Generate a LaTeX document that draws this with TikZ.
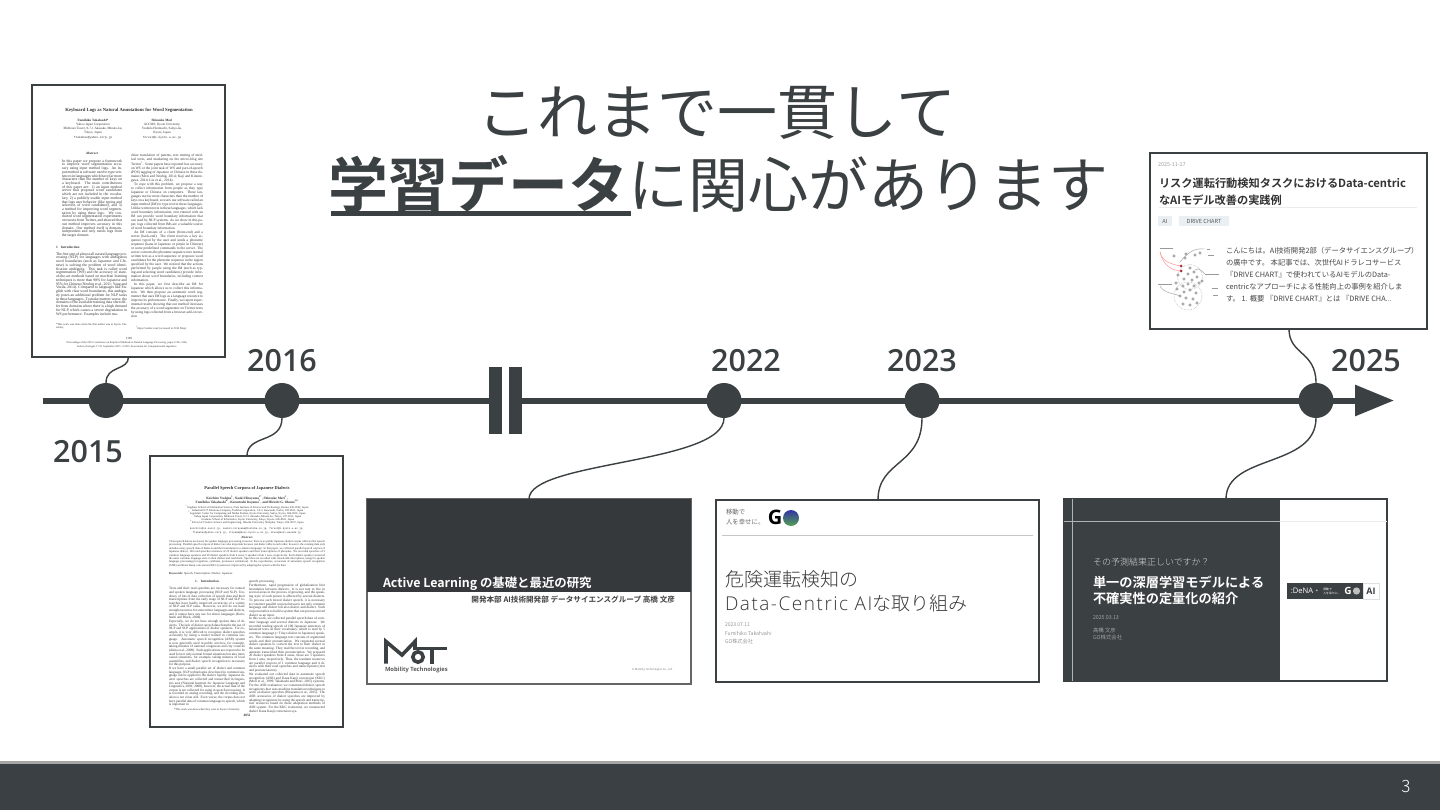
\documentclass[tikz,border=0pt]{standalone}
\usepackage{fontspec}
\usetikzlibrary{arrows.meta}
\newfontfamily\jpl[BoldFont={Noto Sans CJK JP Bold}]{Noto Sans CJK JP Light}
\newfontfamily\jp[BoldFont={Noto Sans CJK JP Bold}]{Noto Sans CJK JP}
\newfontfamily\ser{Liberation Serif}
\newfontfamily\mon{Liberation Mono}
\newfontfamily\ops{Open Sans}
\newfontfamily\opsl[LetterSpace=8]{Open Sans Light}
\newfontfamily\opsm{Open Sans Semibold}
\newcommand\fsz[2]{\fontsize{#1}{#2}\selectfont}
\lineskiplimit=-10pt
\definecolor{ink}{HTML}{3B4043}
\definecolor{slidedark}{HTML}{35393B}
\definecolor{foot}{HTML}{3B4044}
\definecolor{tagbg}{HTML}{E9EFF2}
\tikzset{
  frame/.style={draw=ink,line width=2.2pt,fill=white,inner sep=0pt,outer sep=0pt,anchor=north west},
  txt/.style={inner sep=0pt,outer sep=0pt,anchor=west,align=left,text=ink},
  year/.style={inner sep=0pt,outer sep=0pt,text=ink,font=\opsm\fsz{30.5}{30}},
  dot/.style={circle,fill=ink,minimum size=35pt,inner sep=0pt,outer sep=0pt},
  link/.style={draw=ink,line width=1.4pt},
  bar/.style={fill=ink,draw=none},
  col/.style={inner sep=0pt,outer sep=0pt,anchor=north west,align=justify,text=black!80,font=\ser\fsz{3.6}{3.72}\selectfont\sloppy},
  cen/.style={inner sep=0pt,outer sep=0pt,anchor=north,align=center,text=black!80,font=\ser\fsz{3.3}{3.62}\selectfont},
  tag/.style={fill=tagbg,inner sep=0pt,outer sep=0pt,anchor=north west,text=black!65,font=\jp\fsz{5.6}{6}\selectfont},
  blob/.style={draw=black!45,line width=.5pt},
  tickm/.style={draw=black!40,line width=.8pt}
}
\begin{document}
\begin{tikzpicture}[x=1pt,y=-1pt]
\useasboundingbox (0,0) rectangle (1440,810);
\fill[white] (0,0) rectangle (1440,810);
% footer
\fill[foot] (0,763) rectangle (1440,810);
\fill[black!35] (0,761) rectangle (1440,763.5);
\node[txt,anchor=center,text=white,font=\jpl\fsz{17}{17}\selectfont] (pageno) at (1406,786) {3};
% title
\node[txt,anchor=center,font=\jp\fsz{60}{60}\selectfont] (title1) at (717,113) {これまで一貫して};
\node[txt,anchor=center,font=\jp\fsz{60}{60}\selectfont] (title2) at (718,184) {\textbf{学習データ}に関心があります};
\fill[ink] (331,211) rectangle (631,216);
% timeline
\coordinate (tlstart) at (43,400.5);
\coordinate (tlend) at (1394,400.5);
\draw[draw=ink,line width=6pt,-{Triangle[length=39pt,width=30pt]}] (tlstart) -- (tlend);
\fill[white] (485,360) rectangle (526,440);
\fill[ink] (480,397.5) rectangle (489,403.5);
\fill[ink] (522,397.5) rectangle (530,403.5);
\fill[bar] (489,367) rectangle (502,434);
\fill[bar] (509,367) rectangle (522,434);
\node[dot] (d15) at (106,400.5) {};
\node[dot] (d16) at (282,400.5) {};
\node[dot] (d22) at (724,400.5) {};
\node[dot] (d23) at (922,400.5) {};
\node[dot] (d25) at (1316,400.5) {};
\node[year] (y15) at (88,452) {2015};
\node[year] (y16) at (282,361) {2016};
\node[year] (y22) at (746,361) {2022};
\node[year] (y23) at (922,361) {2023};
\node[year] (y25) at (1366,361) {2025};
% frames
\node[frame,minimum width=193pt,minimum height=272pt] (p1) at (32,85) {};
\node[frame,minimum width=193pt,minimum height=271pt] (p2) at (150,456) {};
\node[frame,draw=black!60,minimum width=324pt,minimum height=185pt] (s1) at (367,499) {};
\node[frame,minimum width=323pt,minimum height=182pt] (s2) at (716,500) {};
\node[frame,minimum width=323pt,minimum height=182pt] (s3) at (1064,499) {};
\node[frame,minimum width=277pt,minimum height=176pt] (c1) at (1150,153) {};
% connectors
\draw[link] (d15.north) .. controls +(0,-18) and +(0,14) .. (p1.south);
\draw[link] (d16.south) .. controls +(0,26) and +(0,-22) .. (p2.north -| 247,0);
\draw[link] (d22.south) .. controls +(0,46) and +(0,-38) .. (s1.north -| 529,0);
\draw[link] (d23.south) .. controls +(0,48) and +(0,-40) .. (s2.north -| 878,0);
\draw[link] (d25.south) .. controls +(0,50) and +(0,-45) .. (s3.north -| 1226,0);
\draw[link] (d25.north) .. controls +(0,-32) and +(0,26) .. (c1.south -| 1289,0);
% paper 1
\node[cen,font=\ser\bfseries\fsz{4.7}{5}\selectfont] (p1t) at (129,108) {Keyboard Logs as Natural Annotations for Word Segmentation};
\node[cen,font=\ser\fsz{3.3}{4.2}\selectfont] (p1a) at (93,119) {\textbf{Fumihiko Takahashi*}\\Yahoo Japan Corporation\\Midtown Tower, 9-7-1 Akasaka, Minato-ku,\\Tokyo, Japan\\{\mon\fsz{2.9}{4.2}\selectfont ftakahas@yahoo-corp.jp}};
\node[cen,font=\ser\fsz{3.3}{4.2}\selectfont] (p1b) at (162,119) {\textbf{Shinsuke Mori}\\ACCMS, Kyoto University\\Yoshida Honmachi, Sakyo-ku,\\Kyoto, Japan\\{\mon\fsz{2.9}{4.2}\selectfont forest@i.kyoto-u.ac.jp}};
\node[cen,font=\ser\bfseries\fsz{3.3}{3.6}\selectfont] (p1abs) at (92,152) {Abstract};
\node[col,text width=60pt,font=\ser\fsz{3.8}{3.72}\selectfont\sloppy] (p1c1) at (62,159.5) {In this paper we propose a framework to improve word segmentation accuracy using input method logs. An input method is software used to type sentences in languages which have far more characters than the number of keys on a keyboard. The main contributions of this paper are: 1) an input method server that proposes word candidates which are not included in the vocabulary, 2) a publicly usable input method that logs user behavior (like typing and selection of word candidates), and 3) a method for improving word segmentation by using these logs. We conducted word segmentation experiments on tweets from Twitter, and showed that our method improves accuracy in this domain. Our method itself is domain-independent and only needs logs from the target domain.};
\node[col,font=\ser\bfseries\fsz{3.4}{3.6}\selectfont] (p1h) at (56,246.5) {1\quad Introduction};
\node[col,text width=71pt,font=\ser\fsz{3.8}{3.75}\selectfont\sloppy] (p1c2) at (56,252.5) {The first step of almost all natural language processing (NLP) for languages with ambiguous word boundaries (such as Japanese and Chinese) is solving the problem of word identification ambiguity. This task is called word segmentation (WS) and the accuracy of state-of-the-art methods based on machine learning techniques is more than 98\% for Japanese and 95\% for Chinese (Neubig et al., 2011; Yang and Vozila, 2014). Compared to languages like English with clear word boundaries, this ambiguity poses an additional problem for NLP tasks in these languages. To make matters worse, the domains of the available training data often differ from domains where there is a high demand for NLP, which causes a severe degradation in WS performance. Examples include ma-};
\node[col,text width=71pt,font=\ser\fsz{2.8}{3.2}\selectfont] (p1f) at (56,323.5) {*This work was done when the first author was at Kyoto University.};
\node[col,text width=72pt,font=\ser\fsz{3.6}{3.98}\selectfont\sloppy] (p1c3) at (131,154) {chine translation of patents, text mining of medical texts, and marketing on the micro-blog site Twitter\textsuperscript{1}. Some papers have reported low accuracy on WS or the joint task of WS and part-of-speech (POS) tagging of Japanese or Chinese in these domains (Mori and Neubig, 2014; Kaji and Kitsuregawa, 2014; Liu et al., 2014).\par\hspace{3pt}To cope with this problem, we propose a way to collect information from people as they type Japanese or Chinese on computers. These languages use far more characters than the number of keys on a keyboard, so users use software called an input method (IM) to type text in these languages. Unlike written texts in these languages, which lack word boundary information, text entered with an IM can provide word boundary information that can used by NLP systems. As we show in this paper, logs collected from IMs are a valuable source of word boundary information.\par\hspace{3pt}An IM consists of a client (front-end) and a server (back-end). The client receives a key sequence typed by the user and sends a phoneme sequence (kana in Japanese or pinyin in Chinese) or some predefined commands to the server. The server converts the phoneme sequence into normal written text as a word sequence or proposes word candidates for the phoneme sequence in the region specified by the user. We noticed that the actions performed by people using the IM (such as typing and selecting word candidates) provide information about word boundaries, including context information.\par\hspace{3pt}In this paper, we first describe an IM for Japanese which allows us to collect this information. We then propose an automatic word segmenter that uses IM logs as a language resource to improve its performance. Finally, we report experimental results showing that our method increases the accuracy of a word segmenter on Twitter texts by using logs collected from a browser add-on version};
\node[col,text width=72pt,font=\ser\fsz{2.8}{3.2}\selectfont] (p1g) at (136,326) {\textsuperscript{1}https://twitter.com/ (accessed in 2015 May).};
\node[cen,font=\ser\fsz{3.2}{3.4}\selectfont] (p1n) at (129,337.5) {1196};
\node[cen,font=\ser\fsz{2.7}{3.3}\selectfont] (p1p) at (127,342) {Proceedings of the 2015 Conference on Empirical Methods in Natural Language Processing, pages 1196--1206,\\Lisbon, Portugal, 17-21 September 2015. \copyright 2015 Association for Computational Linguistics.};
% paper 2
\node[cen,font=\ser\bfseries\fsz{4.4}{5}\selectfont] (p2t) at (247,486) {Parallel Speech Corpora of Japanese Dialects};
\node[cen,font=\ser\bfseries\fsz{3.4}{4}\selectfont] (p2a) at (247,496) {Koichiro Yoshino\textsuperscript{1}, Naoki Hirayama\textsuperscript{2*}, Shinsuke Mori\textsuperscript{3},\\Fumihiko Takahashi\textsuperscript{4*}, Katsutoshi Itoyama\textsuperscript{5}, and Hiroshi G. Okuno\textsuperscript{5,6}};
\node[cen,font=\ser\fsz{2.8}{3}\selectfont] (p2b) at (247,505.5) {\textsuperscript{1}Graduate School of Information Science, Nara Institute of Science and Technology, Ikoma, 630-0192, Japan\\\textsuperscript{2}Industrial ICT Solutions Company, Toshiba Corporation, 1-9-2, Kawasaki, Fuchu, 183-8511, Japan\\\textsuperscript{3}Academic Center for Computing and Media Studies, Kyoto University, Sakyo, Kyoto, 606-8501, Japan\\\textsuperscript{4}Yahoo Japan Corporation, Midtown Tower, 9-7-1 Akasaka, Minato-ku, Tokyo, 107-6211, Japan\\\textsuperscript{5}Graduate School of Informatics, Kyoto University, Sakyo, Kyoto, 606-8501, Japan\\\textsuperscript{6}School of Creative Science and Engineering, Waseda University, Shinjuku, Tokyo, 169-0072, Japan};
\node[cen,font=\mon\fsz{2.5}{3.8}\selectfont] (p2c) at (247,527.5) {koichiro@is.naist.jp, naoki1.hirayama@toshiba.co.jp, forest@i.kyoto-u.ac.jp,\\ftakahas@yahoo-corp.jp, itoyama@kuis.kyoto-u.ac.jp, okuno@aoni.waseda.jp};
\node[cen,font=\ser\bfseries\fsz{3}{3.4}\selectfont] (p2d) at (247,536) {Abstract};
\node[col,text width=156pt,font=\ser\fsz{2.9}{3.4}\selectfont\sloppy] (p2e) at (169,540.5) {Clean speech data is necessary for spoken language processing, however, there is no public Japanese dialect corpus collected for speech processing. Parallel speech corpora of dialect are also important because real dialect affects each other, however, the existing data only includes noisy speech data of dialects and their translation to common language. In this paper, we collected parallel speech corpora of Japanese dialect, 100 read speeches utterance of 25 dialect speakers and their transcriptions of phoneme. We recorded speeches of 5 common language speakers and 20 dialect speakers from 4 areas, 5 speakers from 1 area, respectively. Each dialect speaker converted the same common language texts to their dialect and read them. Speeches are recorded with closed-talk microphone, using for spoken language processing (recognition, synthesis, pronounce estimation). In the experiments, accuracies of automatic speech recognition (ASR) and Kana Kanji conversion (KKC) system are improved by adapting the system with the data.};
\node[col,font=\ser\fsz{3}{3.4}\selectfont] (p2k) at (169,572.5) {\textbf{Keywords:} Speech, Transcription, Dialect, Japanese};
\node[cen,font=\ser\bfseries\fsz{3.3}{3.6}\selectfont] (p2h) at (207,580) {1.\quad Introduction};
\node[col,text width=76pt,font=\ser\fsz{3.4}{3.62}\selectfont\sloppy] (p2l) at (169,587.5) {Texts and their read speeches are necessary for natural and spoken language processing (NLP and SLP). Tendency of lots of data collection of speech data and their transcriptions from the early stage of NLP and SLP researches have hardly improved accuracies of a variety of NLP and SLP tasks. However, we still do not have enough resources for some minor languages and dialects, and it cannot have any use for minor languages (Kurohashi and Black, 2004).\par Especially, we do not have enough spoken data of dialects. The lack of dialect speech data disturbs the use of NLP and SLP applications of dialect speakers. For example, it is very difficult to recognize dialect speeches accurately by using a model trained in common language. Automatic speech recognition (ASR) system is now generally used in public services, for example, taking minutes of national congresses and city councils (Akita et al., 2009). Such applications are expected to be used for not only normal formal situations but also more casual situations, for example, taking minutes of local assemblies, and dialect speech recognition is necessary for this purpose.\par If we have a small parallel set of dialect and common language, NLP technologies developed in common language can be applied to the dialect rapidly. Japanese dialect speeches are collected and transcribed in linguistics area (National Institute for Japanese Language and Linguistics, 2001; 2008), however, the actual data of the corpus is not collected for using in speech processing. It is recorded on analog recording, and the recording situation is not clean still. Even worse, the corpus does not have parallel data of common language to speech, which is important in};
\node[col,text width=76pt,font=\ser\fsz{2.8}{3.2}\selectfont] (p2m) at (174,708.5) {*This work was done when they were at Kyoto University.};
\node[col,text width=76pt,font=\ser\fsz{3.45}{3.7}\selectfont\sloppy] (p2r) at (249,580.5) {speech processing.\par Furthermore, rapid progression of globalization blur boundaries between dialects. It is not rare to live in several areas in the process of growing, and the speaking style of each person is affected by several dialects. To process such mixed dialect speech, it is necessary to construct parallel corpora between not only common language and dialect but also dialect and dialect. Such corpora realize to build a system that can process mixed dialect as an input.\par In this work, we collected parallel speech data of common language and several dialects in Japanese. We recorded reading speech of 100 Japanese sentences of balanced texts on their vocabulary, which is read by 5 common language (= Tokyo dialect in Japanese) speakers. The common language text consists of segmented words and their pronunciation. We requested several dialect speakers to convert the text to their dialect in the same meaning. They read the text in recording, and annotate transcribed their pronunciation. We prepared 20 dialect speakers from 4 areas, those are 5 speakers from 1 area, respectively. Thus, the resultant resources are parallel corpora of 1 common language and 4 dialects with their read speeches and transcriptions (text and pronunciations).\par We evaluated our collected data in automatic speech recognition (ASR) and Kana Kanji conversion (KKC) (Mori et al., 1999; Takahashi and Mori, 2015) systems. For the ASR evaluation, we constructed dialect speech recognizers that uses machine translation techniques to work on dialect speeches (Hirayama et al., 2015). The ASR accuracies of dialect speeches are improved by adapting recognizers by using the speech and transcription resources based on these adaptation methods of ASR system. For the KKC evaluation, we constructed dialect Kana Kanji conversion sys-};
\node[cen,font=\ser\bfseries\fsz{3.4}{3.6}\selectfont] (p2n) at (247,714.5) {4052};
% slide 1
\fill[slidedark] (367,499) rectangle (691,591.5);
\node[txt,text=white,font=\jp\bfseries\fsz{12.4}{13}\selectfont] (s1t) at (383,584) {Active Learning の基礎と最近の研究};
\node[txt,anchor=east,text=black!75,font=\jp\bfseries\fsz{7.6}{8}\selectfont] (s1s) at (675,600) {開発本部 AI技術開発部 データサイエンスグループ 高橋 文彦};
\draw[ink,line width=3.6pt,miter limit=4] (386,663.5) -- (386,641.5) -- (402,655) -- (415,641.5) -- (415,650);
\draw[ink,line width=3.6pt] (418,657) circle (5.2);
\draw[ink,line width=3.6pt] (414,648.5) -- (447,648.5) (432,648.5) -- (432,663.5);
\node[txt,font=\ops\bfseries\fsz{5.8}{7}\selectfont,text=black!65] (s1l) at (385,670) {Mobility Technologies};
\node[txt,text=black!55,font=\ops\fsz{2.7}{3}\selectfont] (s1c) at (632,670) {\copyright\ Mobility Technologies Co., Ltd.};
% slide 2
\node[txt,text=black!60,font=\jp\fsz{6.4}{9.4}\selectfont] (s2a) at (726,517) {移動で\\人を幸せに。};
\node[txt,anchor=center,text=black,font=\ops\bfseries\fsz{20}{20}\selectfont] (s2g) at (775,517) {G};
\shade[shading angle=45,bottom color=black!10!green!35!gray,top color=blue!55!black!80] (791,518) circle (8);
\draw[black!22,line width=1pt] (722,535) -- (1033,535);
\node[txt,text=black!78,font=\jpl\fsz{19}{24}\selectfont] (s2t) at (725,579) {危険運転検知の};
\node[txt,text=black!78,font=\jpl\fsz{19}{24}\selectfont] (s2u) at (725,603) {{\opsl\fsz{19}{24}Data-Centric AI}な取り組み};
\node[txt,text=black!60,font=\jpl\fsz{5.2}{8.6}\selectfont] (s2d) at (725,633.5) {2023.07.11\\Fumihiko Takahashi\\GO株式会社};
% slide 3
\fill[ink] (1064,499) rectangle (1279.5,681);
\draw[white!60!ink,line width=.8pt] (1072,499) -- (1072,681);
\draw[white!60!ink,line width=.8pt] (1064,521) -- (1279.5,521);
\draw[black!8,line width=.8pt] (1279.5,521) -- (1387,521);
\node[txt,text=white!80!ink,font=\jpl\fsz{9}{10}\selectfont] (s3a) at (1093,562) {その予測結果正しいですか？};
\node[txt,text=white,font=\jp\bfseries\fsz{13.2}{16}\selectfont] (s3b) at (1093,590) {単一の深層学習モデルによる\\不確実性の定量化の紹介};
\node[txt,text=white!75!ink,font=\jpl\fsz{5.4}{6}\selectfont] (s3c) at (1093,618) {2025.03.13};
\node[txt,text=white!75!ink,font=\jpl\fsz{5.4}{7}\selectfont] (s3d) at (1093,634) {高橋 文彦\\GO株式会社};
\fill[ink] (1287,583) rectangle (1363,599);
\draw[black!12,line width=.6pt,fill=white] (1363,583) rectangle (1379,599);
\node[txt,anchor=center,text=ink,font=\ops\bfseries\fsz{9}{9}\selectfont] (s3e) at (1371,591) {AI};
\node[txt,anchor=center,text=white,font=\ops\fsz{7.6}{8}\selectfont] (s3f) at (1302,591) {:DeNA};
\node[txt,anchor=center,text=white,font=\ops\fsz{5}{5}\selectfont] (s3g) at (1317,591) {+};
\node[txt,anchor=center,text=white,font=\jp\fsz{2.9}{4}\selectfont,align=left] (s3h) at (1332,591) {移動で\\人を幸せに。};
\node[txt,anchor=center,text=white,font=\ops\bfseries\fsz{10}{10}\selectfont] (s3i) at (1348,591) {G};
\fill[black!25] (1356.5,591) circle (3.6);
% card
\node[txt,text=black!38,font=\jp\fsz{5.4}{6}\selectfont] (c1d) at (1158,165) {2025-11-17};
\node[txt,text=black!80,font=\jp\bfseries\fsz{11.2}{17}\selectfont] (c1t) at (1159,191.5) {リスク運転行動検知タスクにおけるData-centric\\なAIモデル改善の実践例};
\draw[black!8,line width=.8pt] (1159,207.5) -- (1417,207.5);
\node[tag,minimum width=14pt,minimum height=10pt] (c1g) at (1158,216) {AI};
\node[tag,minimum width=50pt,minimum height=10pt] (c1h) at (1179,216) {DRIVE CHART};
\node[txt,text=black!72,font=\jp\fsz{7.3}{12}\selectfont] (c1b) at (1226,275) {こんにちは。AI技術開発2部（データサイエンスグループ）\\の廣中です。 本記事では、次世代AIドラレコサービス\\『DRIVE CHART』で使われているAIモデルのData-\\centricなアプローチによる性能向上の事例を紹介しま\\す。 1. 概要 『DRIVE CHART』とは 『DRIVE CHA...};
% small figure in card
\draw[black!35,densely dotted,line width=.5pt] (1190,277) circle (12.5) (1188,296) circle (14);
\foreach \px/\py in {1174/256,1185/258,1186/254,1195/255,1200/253,1178/275,1176/283,1183/286,1184/279,1190/268,1194/272,1188/274,1197/277,1192/280,1199/283,1188/284,1194/286,1202/281,1184/292,1180/296,1190/290,1196/293,1186/298,1193/299,1183/304,1190/305,1197/303,1177/289}
  \draw[blob] (\px,\py) circle (1.3);
\fill[red!55!black!80] (1181,266) circle (1.5) (1181,271) circle (1.5);
\draw[red!40,line width=.5pt] (1160,252) .. controls (1162,262) and (1172,264) .. (1180,266);
\draw[red!40,line width=.5pt] (1160,252) .. controls (1163,266) and (1172,270) .. (1180,271);
\draw[black!35,line width=.5pt] (1180,262) .. controls (1188,252) and (1195,248) .. (1204,249);
\draw[black!35,line width=.5pt] (1195,270) .. controls (1199,266) and (1204,274) .. (1205,274);
\draw[black!35,line width=.5pt] (1160,286) .. controls (1165,294) and (1170,292) .. (1180,296);
\draw[tickm] (1160,248.5) -- (1173,248.5);
\draw[tickm] (1207,249) -- (1210,249);
\draw[tickm] (1208,255) -- (1214,255);
\draw[tickm] (1205,274) -- (1219,274);
\draw[tickm] (1158,284) -- (1172,284);
\draw[tickm] (1212,288) -- (1218,288);
\draw[tickm] (1213,295) -- (1218,295);
\end{tikzpicture}
\end{document}
